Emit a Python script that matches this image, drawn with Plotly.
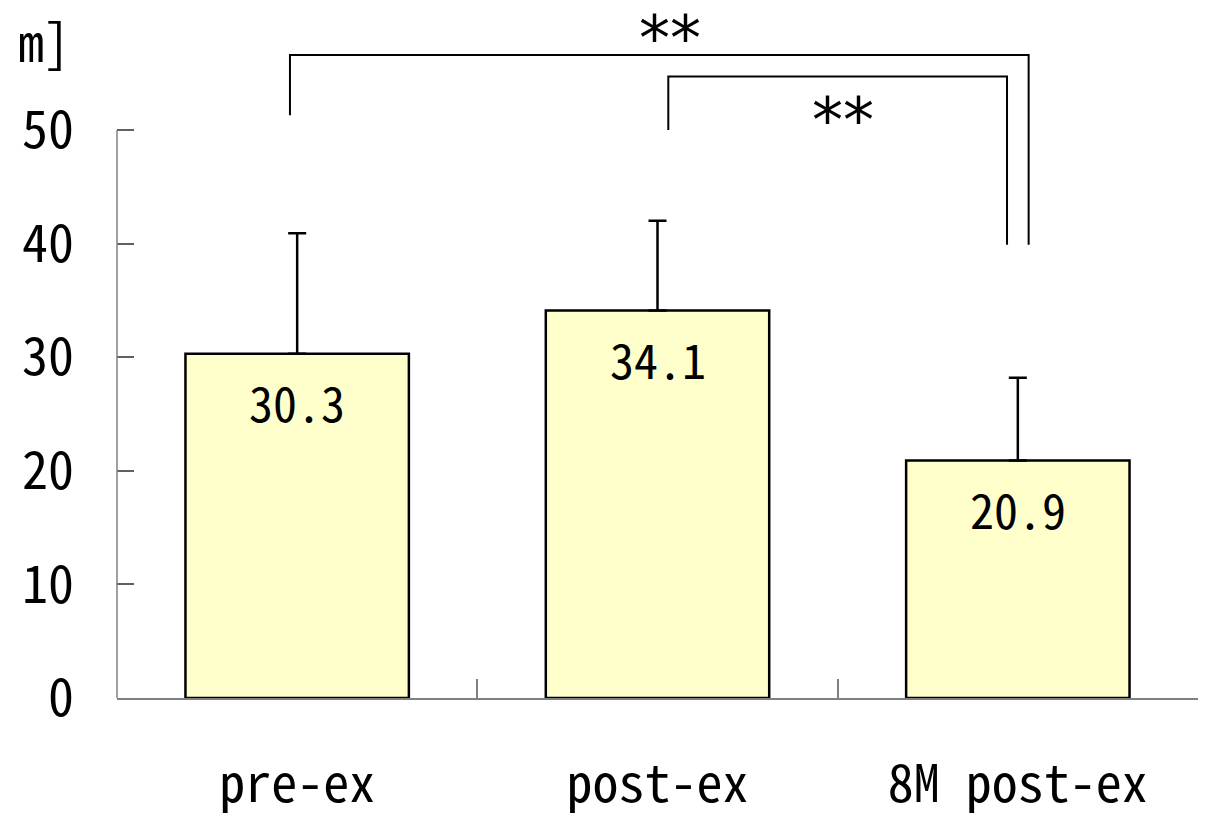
import plotly.graph_objects as go

categories = ["pre-ex", "post-ex", "8M post-ex"]
means = [30.3, 34.1, 20.9]
sds = [10.6, 7.9, 7.3]
y_ticks = [0, 10, 20, 30, 40, 50]
y_axis_label = "m]"

# significance brackets: (left index, right index, left end, top, right end, label, label offset)
brackets = [
    (0, 2, 51.3, 56.6, 39.9, "**", 2.2),
    (1, 2, 50.0, 54.7, 39.9, "**", -3.1),
]
bracket_dx = [(-0.02, 0.03), (0.03, -0.03)]
label_dx = [0.03, 0.015]

FONT = "Noto Sans Mono CJK JP, Liberation Sans Narrow, Noto Sans CJK JP, sans-serif"

fig = go.Figure()
fig.add_trace(go.Bar(
    x=categories, y=means, width=0.62,
    marker=dict(color="#FFFFCC", line=dict(color="black", width=2.5)),
    error_y=dict(type="data", symmetric=False, array=sds,
                 arrayminus=[0] * len(sds), color="black", thickness=2.5, width=9),
    showlegend=False, hoverinfo="skip",
))

for c, v in zip(categories, means):
    fig.add_annotation(x=c, y=v, text=f"{v:.1f}", showarrow=False,
                       yanchor="top", yshift=-10,
                       font=dict(family=FONT, size=48, color="black"))

for (a, b, y_left, y_top, y_right, lab, off), (da, db), ldx in zip(brackets, bracket_dx, label_dx):
    xa, xb = a + da, b + db
    fig.add_shape(type="path", xref="x", yref="y",
                  path=f"M {xa} {y_left} L {xa} {y_top} L {xb} {y_top} L {xb} {y_right}",
                  line=dict(color="black", width=2))
    fig.add_annotation(x=(xa + xb) / 2 + ldx, y=y_top + off, text=lab, showarrow=False,
                       yanchor="middle", yshift=-9,
                       font=dict(family="DejaVu Sans", size=62, color="black"))

# y axis line only up to 50
fig.add_shape(type="line", xref="paper", yref="y", x0=0, x1=0,
              y0=y_ticks[0], y1=y_ticks[-1], line=dict(color="#808080", width=1.5))

fig.add_annotation(xref="paper", yref="paper", x=-0.042, y=1.0 + 10 / 688,
                   xanchor="right", yanchor="top", text=y_axis_label,
                   showarrow=False, font=dict(family=FONT, size=52, color="black"))

fig.update_layout(
    width=1209, height=817,
    margin=dict(l=117, r=11, t=10, b=119),
    plot_bgcolor="white", paper_bgcolor="white",
    font=dict(family=FONT, size=52, color="black"),
)
fig.update_xaxes(
    type="category", range=[-0.5, 2.5], tickson="boundaries",
    ticks="inside", ticklen=19, tickwidth=1.5, tickcolor="#808080",
    showline=True, linecolor="#808080", linewidth=2,
    showgrid=False, zeroline=False, ticklabelstandoff=40, automargin=False,
    tickfont=dict(family=FONT, size=52, color="black"),
)
fig.update_yaxes(
    range=[0, 60.56], tickvals=y_ticks, ticks="inside", ticklen=17,
    tickwidth=1.5, tickcolor="#606060", showline=False, showgrid=False,
    zeroline=False, ticklabelstandoff=42, automargin=False,
    tickfont=dict(family=FONT, size=52, color="black"),
)

fig.write_html("out.html")
